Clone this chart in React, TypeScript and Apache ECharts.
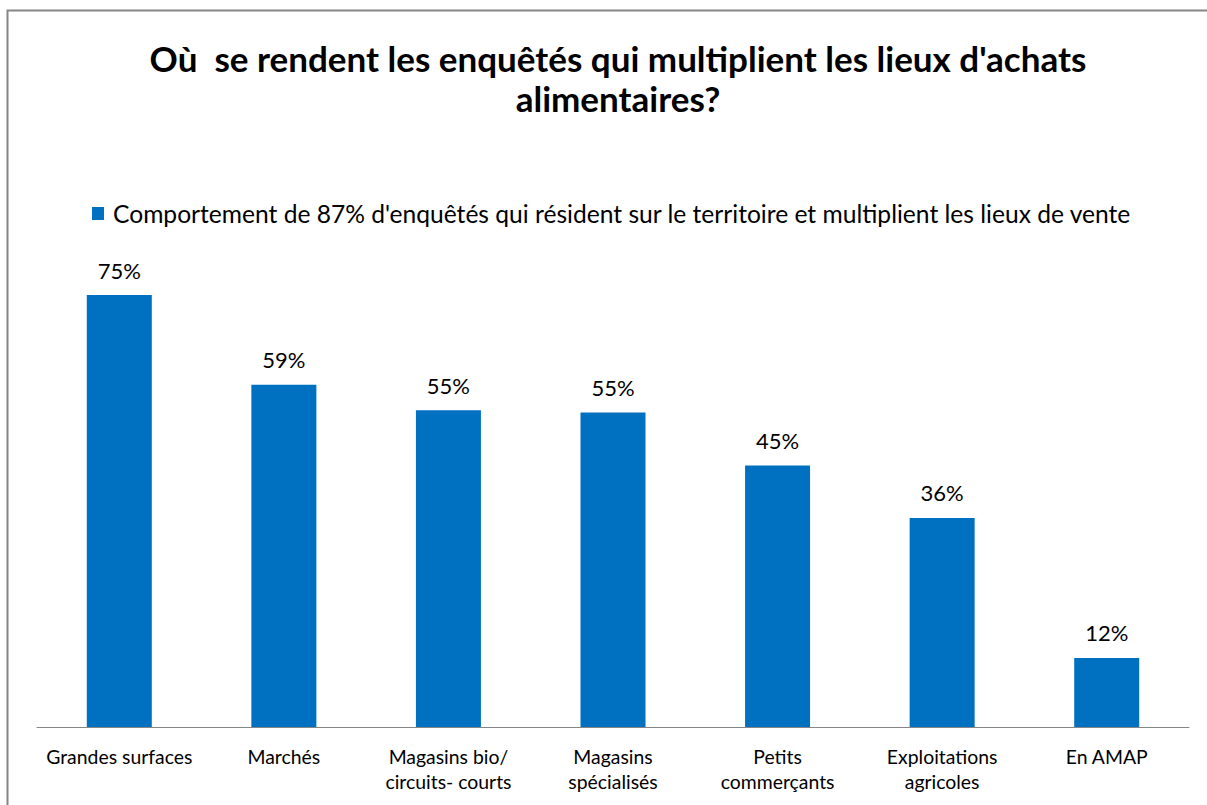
import React, { useEffect, useRef } from "react";
import * as echarts from "echarts";

const titleText = "Où  se rendent les enquêtés qui multiplient les lieux d'achats\nalimentaires?";
const seriesName = "Comportement de 87% d'enquêtés qui résident sur le territoire et multiplient les lieux de vente";
const categories = [
  "Grandes surfaces",
  "Marchés",
  "Magasins bio/\ncircuits- courts",
  "Magasins\nspécialisés",
  "Petits\ncommerçants",
  "Exploitations\nagricoles",
  "En AMAP",
];
const values = [75, 59.4, 55, 54.6, 45.4, 36.3, 12];

const FONT = "Lato, sans-serif";

export default function App() {
  const ref = useRef<HTMLDivElement>(null);
  useEffect(() => {
    if (!ref.current) return;
    const chart = echarts.init(ref.current, null, { renderer: "svg" });
    chart.setOption({
      animation: false,
      backgroundColor: "#ffffff",
      title: {
        text: titleText,
        left: 613,
        top: 33,
        textAlign: "center",
        textStyle: {
          fontFamily: FONT,
          fontWeight: "bold",
          fontSize: 35,
          lineHeight: 40,
          color: "#000000",
        },
      },
      legend: {
        left: 87,
        top: 196,
        itemWidth: 12,
        itemHeight: 13,
        itemGap: 6,
        icon: "rect",
        textStyle: { fontFamily: FONT, fontSize: 24.6, color: "#000000", padding: [0, 0, 0, 4] },
        data: [seriesName],
      },
      grid: { left: 37, right: 18, top: 266.2, bottom: 78, containLabel: false },
      xAxis: {
        type: "category",
        data: categories,
        axisLine: { show: true, lineStyle: { color: "#868686", width: 1 } },
        axisTick: { show: false },
        axisLabel: {
          interval: 0,
          margin: 17,
          fontFamily: FONT,
          fontSize: 19.4,
          lineHeight: 25,
          color: "#000000",
        },
      },
      yAxis: {
        type: "value",
        min: 0,
        max: 80,
        show: false,
        splitLine: { show: false },
      },
      series: [
        {
          name: seriesName,
          type: "bar",
          data: values,
          barWidth: 65,
          itemStyle: { color: "#0070C0" },
          label: {
            show: true,
            position: "top",
            distance: 14,
            fontFamily: FONT,
            fontSize: 22,
            color: "#000000",
            formatter: (p: any) => Math.round(p.value) + "%",
          },
        },
      ],
      graphic: [
        {
          type: "polyline",
          shape: { points: [[7.5, 805], [7.5, 10.5], [1207, 10.5]] },
          style: { stroke: "#868686", lineWidth: 2, fill: null },
          silent: true,
        },
      ],
    });
    return () => chart.dispose();
  }, []);
  return (
    <div
      ref={ref}
      style={{ position: "absolute", left: 0, top: 0, width: 1207, height: 805 }}
    />
  );
}
